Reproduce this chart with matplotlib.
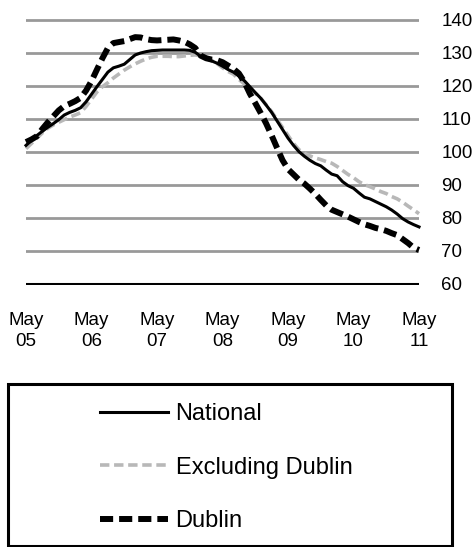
import matplotlib

matplotlib.use("Agg")
import matplotlib.pyplot as plt
from matplotlib.patches import Rectangle

plt.rcParams["font.family"] = ["Liberation Sans", "DejaVu Sans"]

# monthly index, May 2005 = 0 ... May 2011 = 72
months = list(range(73))
tick_months = [0, 12, 24, 36, 48, 60, 72]
tick_labels = ["May\n05", "May\n06", "May\n07", "May\n08", "May\n09", "May\n10", "May\n11"]
y_ticks = [60, 70, 80, 90, 100, 110, 120, 130, 140]

national = [
    102.0, 103.5, 105.0, 106.3, 107.5, 108.6, 109.8, 111.2, 112.0, 112.6, 113.4, 115.2,
    117.5, 119.8, 122.0, 124.2, 125.5, 126.0, 126.6, 128.0, 129.4, 130.0, 130.4, 130.7,
    130.8, 130.9, 130.9, 130.9, 130.9, 130.9, 130.8, 130.2, 129.0, 128.4, 127.6, 126.9,
    126.0, 125.0, 124.2, 123.0, 121.6, 119.8, 118.0, 116.3, 114.2, 112.0, 109.4, 106.8,
    104.2, 102.0, 100.1, 98.7, 97.5, 96.5, 95.8, 94.5, 93.3, 92.8, 91.0, 89.8,
    89.0, 87.6, 86.3, 85.8, 85.0, 84.2, 83.4, 82.4, 81.2, 79.8, 78.8, 78.0,
    77.3,
]
excl_dublin = [
    101.0, 102.6, 104.2, 105.8, 107.2, 108.2, 109.0, 109.8, 110.6, 111.2, 111.9, 113.8,
    116.0, 118.2, 119.8, 121.0, 122.4, 123.6, 124.8, 125.8, 126.7, 127.5, 128.2, 128.7,
    129.0, 129.0, 129.0, 128.9, 128.9, 129.1, 129.3, 129.4, 129.2, 128.8, 127.8, 126.8,
    125.5, 124.4, 123.6, 122.0, 120.6, 119.3, 117.8, 116.3, 114.3, 112.2, 109.8, 107.4,
    105.0, 102.6, 100.7, 99.6, 98.8, 98.2, 97.7, 97.1, 96.6, 95.6, 94.4, 93.2,
    92.2, 91.0, 90.1, 89.5, 88.8, 88.0, 87.4, 86.5, 85.8, 84.8, 83.6, 82.5,
    81.3,
]
dublin = [
    103.0, 103.8, 104.8, 107.0, 109.0, 110.8, 112.6, 113.9, 114.6, 115.4, 116.4, 118.6,
    121.5, 125.0, 128.4, 131.5, 133.0, 133.3, 133.6, 134.2, 134.8, 134.7, 134.2, 133.9,
    133.8, 133.9, 134.0, 134.1, 133.8, 133.4, 132.6, 131.5, 129.2, 128.4, 128.0, 127.8,
    127.2, 126.2, 125.2, 123.8, 121.2, 117.7, 114.8, 111.8, 108.6, 105.0, 101.2, 97.5,
    94.8, 93.2, 91.6, 90.4, 88.9, 87.3, 85.5, 83.8, 82.5, 81.8, 81.1, 80.4,
    79.6, 78.8, 78.1, 77.6, 77.0, 76.6, 76.1, 75.4, 74.8, 73.6, 72.4, 71.0,
    70.3,
]

fig = plt.figure(figsize=(4.74, 5.47), dpi=100)
ax = fig.add_axes([0.0549, 0.4784, 0.8291, 0.4875])

for y in y_ticks[1:]:
    ax.axhline(y, color="#999999", lw=2.0, zorder=1)
ax.axhline(60, color="black", lw=2.2, zorder=1)

l_ex, = ax.plot(months, excl_dublin, color="#b8b8b8", lw=2.6, dashes=(2.6, 1.3),
                label="Excluding Dublin", zorder=2, clip_on=False)
l_nat, = ax.plot(months, national, color="black", lw=2.2, label="National", zorder=3,
                 clip_on=False)
l_dub, = ax.plot(months, dublin, color="black", lw=4.3, dashes=(2.2, 1.0),
                 label="Dublin", zorder=4, clip_on=False)

ax.set_xlim(0, 72)
ax.set_ylim(59.6, 140.4)
ax.set_xticks(tick_months)
ax.set_xticklabels(tick_labels, fontsize=13.5, linespacing=1.35)
ax.set_yticks(y_ticks)
ax.yaxis.tick_right()
ax.tick_params(axis="y", length=0, pad=16, labelsize=13.5)
ax.tick_params(axis="x", length=0, pad=19)
for s in ax.spines.values():
    s.set_visible(False)

fig.add_artist(Rectangle((0.0169, 0.0018), 0.9367, 0.2962, transform=fig.transFigure,
                         fill=False, edgecolor="black", lw=2.2))
fig.legend([l_nat, l_ex, l_dub], ["National", "Excluding Dublin", "Dublin"],
           loc="center left", bbox_to_anchor=(100 / 474, 0.1453), frameon=False,
           fontsize=17, handlelength=2.9, handletextpad=0.3, labelspacing=1.34,
           borderpad=0, borderaxespad=0)

fig.savefig("out.png", dpi=100)
